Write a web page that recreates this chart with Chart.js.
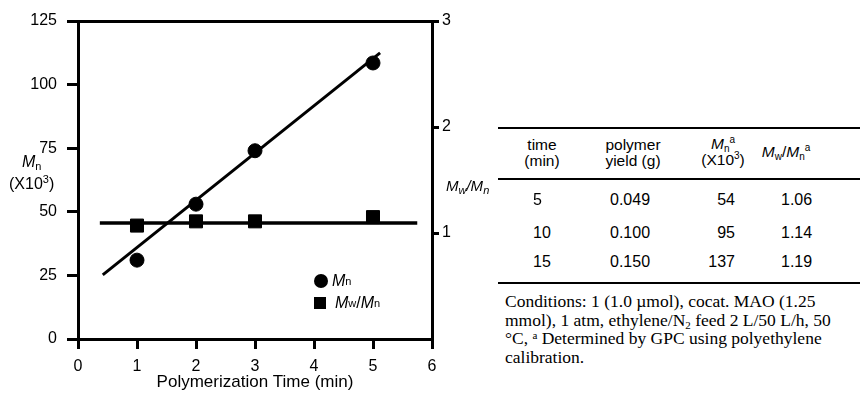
<!DOCTYPE html>
<html>
<head>
<meta charset="utf-8">
<script src="https://cdn.jsdelivr.net/npm/chart.js@4.4.1/dist/chart.umd.min.js"></script>
<style>
  html, body { margin: 0; padding: 0; background: #fff; }
  body { width: 860px; height: 394px; position: relative; overflow: hidden; font-family: "Liberation Sans", Arial, sans-serif; color: #000; }
  #chartBox { position: absolute; left: 0; top: 0; width: 470px; height: 394px; }
  .lbl { position: absolute; font-size: 16px; line-height: 18px; white-space: nowrap; }
  .lbl i { font-style: italic; }
  .lbl sub { font-size: 11px; vertical-align: -3px; line-height: 0; }
  .lbl sup { font-size: 11px; vertical-align: 6px; line-height: 0; }
  #legend { position: absolute; left: 314px; top: 270px; font-size: 16px; }
  #legend .row { height: 22px; display: flex; align-items: center; }
  #legend .mk { width: 14px; height: 14px; background: #000; margin-right: 4px; }
  #legend .mk.circle { border-radius: 50%; }
  #legend .mk.rect { width: 12px; height: 12px; margin-right: 9px; }
  #legend sub { font-size: 11px; vertical-align: -3px; line-height: 0; }
  #tbl { position: absolute; left: 498px; top: 127px; width: 362px; }
  .rule { position: absolute; left: 0; width: 362px; height: 2px; background: #000; }
  .cell { position: absolute; font-size: 15.5px; line-height: 16px; text-align: center; transform: translateX(-50%); white-space: nowrap; }
  .cell i { font-style: italic; }
  .cell sub { font-size: 10px; vertical-align: -3px; line-height: 0; }
  .cell sup { font-size: 10px; vertical-align: 6px; line-height: 0; }
  .num { position: absolute; font-size: 16px; white-space: nowrap; }
  #cond { position: absolute; left: 7px; top: 165px; font-family: "Liberation Serif", "Times New Roman", serif; font-size: 17.5px; line-height: 18.5px; white-space: nowrap; }
  #cond sub, #cond sup { font-size: 11px; line-height: 0; }
  #cond sub { vertical-align: -3px; }
  #cond sup { vertical-align: 5px; }
</style>
</head>
<body>
<div id="chartBox"><canvas id="c" width="470" height="394"></canvas></div>

<div class="lbl" style="left:22px; top:153px;"><i>M</i><sub>n</sub></div>
<div class="lbl" style="left:9px; top:175px;">(X10<sup>3</sup>)</div>
<div class="lbl" style="left:446px; top:177px; font-size:15px;"><i>M<sub>w</sub>/M<sub>n</sub></i></div>

<div id="legend"></div>

<div id="tbl"></div>

<script>
// reaction time (min)
const times = [1, 2, 3, 5];
// Mn (x10^3), left axis
const mnValues = [31, 53, 74, 108.5];
// Mw/Mn, right axis
const pdiValues = [1.07, 1.11, 1.11, 1.15];
// straight-line fits drawn in the figure
const mnFitX = [0.42, 5.12];
const mnFitY = [25.2, 112.5];
const pdiFitX = [0.37, 5.75];
const pdiFitY = [1.094, 1.094];

const xTicks = [0, 1, 2, 3, 4, 5, 6];
const leftTicks = [0, 25, 50, 75, 100, 125];
const rightTicks = [1, 2, 3];

// table
const tableTime = ['5', '10', '15'];
const tableYield = ['0.049', '0.100', '0.150'];
const tableMn = ['54', '95', '137'];
const tablePdi = ['1.06', '1.14', '1.19'];

const pts = (xs, ys) => xs.map((x, i) => ({ x: x, y: ys[i] }));

Chart.defaults.font.family = '"Liberation Sans", Arial, sans-serif';
Chart.defaults.font.size = 16;
Chart.defaults.color = '#000';

const axisBase = {
    border: { color: '#000', width: 3 },
    grid: { drawOnChartArea: false, color: '#000', lineWidth: 3, tickLength: 10 },
};

new Chart(document.getElementById('c'), {
    type: 'scatter',
    data: {
        datasets: [
            {
                label: 'Mn fit', data: pts(mnFitX, mnFitY), yAxisID: 'y',
                showLine: true, borderColor: '#000', borderWidth: 3, pointRadius: 0,
            },
            {
                label: 'Mw/Mn fit', data: pts(pdiFitX, pdiFitY), yAxisID: 'y2',
                showLine: true, borderColor: '#000', borderWidth: 3.5, pointRadius: 0,
            },
            {
                label: 'Mn', data: pts(times, mnValues), yAxisID: 'y',
                pointStyle: 'circle', pointRadius: 7, backgroundColor: '#000', borderColor: '#000',
            },
            {
                label: 'Mw/Mn', data: pts(times, pdiValues), yAxisID: 'y2',
                pointStyle: 'rect', pointRadius: 9.2, backgroundColor: '#000', borderColor: '#000',
            },
        ],
    },
    options: {
        responsive: false,
        animation: false,
        devicePixelRatio: 1,
        layout: { padding: 0 },
        plugins: { legend: { display: false }, tooltip: { enabled: false } },
        scales: {
            x: {
                ...axisBase,
                type: 'linear', position: 'bottom', min: 0, max: 6,
                afterBuildTicks: s => { s.ticks = xTicks.map(v => ({ value: v })); },
                afterFit: s => { s.height = 55; },
                ticks: { padding: 8 },
                title: { display: true, text: 'Polymerization Time (min)', font: { size: 17 }, padding: { top: 0, bottom: 1 } },
            },
            x2: {
                type: 'linear', position: 'top', min: 0, max: 6,
                border: { color: '#000', width: 3 },
                grid: { display: false },
                ticks: { display: false },
                afterFit: s => { s.height = 21; },
            },
            y: {
                ...axisBase,
                position: 'left', min: 0, max: 125,
                grid: { ...axisBase.grid, tickLength: 11 },
                afterBuildTicks: s => { s.ticks = leftTicks.map(v => ({ value: v })); },
                afterFit: s => { s.width = 78; },
                ticks: { padding: 10 },
            },
            y2: {
                ...axisBase,
                position: 'right', min: 0, max: 3,
                grid: { ...axisBase.grid, tickLength: 7 },
                afterBuildTicks: s => { s.ticks = rightTicks.map(v => ({ value: v })); },
                afterFit: s => { s.width = 38; },
                ticks: { padding: 3 },
            },
        },
    },
});

// legend
document.getElementById('legend').innerHTML =
    '<div class="row"><span class="mk circle"></span><i>M</i><sub>n</sub></div>' +
    '<div class="row"><span class="mk rect"></span><i>M</i><sub>w</sub>/<i>M</i><sub>n</sub></div>';

// table
function renderTable() {
    const t = document.getElementById('tbl');
    let html = '';
    html += '<div class="rule" style="top:0"></div>';
    html += '<div class="rule" style="top:51px"></div>';
    html += '<div class="rule" style="top:155px"></div>';
    html += '<div class="cell" style="left:44px;top:10px">time<br>(min)</div>';
    html += '<div class="cell" style="left:135px;top:10px">polymer<br>yield (g)</div>';
    html += '<div class="cell" style="left:225px;top:9px"><i>M</i><sub>n</sub><sup>a</sup><br>(X10<sup>3</sup>)</div>';
    html += '<div class="cell" style="left:288px;top:17px"><i>M</i><sub>w</sub>/<i>M</i><sub>n</sub><sup>a</sup></div>';
    const rowTop = [64, 97, 126];
    tableTime.forEach((v, i) => {
        html += `<div class="num" style="left:35px;top:${rowTop[i]}px">${v}</div>`;
        html += `<div class="num" style="left:112px;top:${rowTop[i]}px">${tableYield[i]}</div>`;
        html += `<div class="num" style="right:125px;top:${rowTop[i]}px">${tableMn[i]}</div>`;
        html += `<div class="num" style="left:283px;top:${rowTop[i]}px">${tablePdi[i]}</div>`;
    });
    html += '<div id="cond">Conditions: 1 (1.0 \u00b5mol), cocat. MAO (1.25<br>' +
        'mmol), 1 atm, ethylene/N<sub>2</sub> feed 2 L/50 L/h, 50<br>' +
        '\u00b0C, <sup>a</sup> Determined by GPC using polyethylene<br>' +
        'calibration.</div>';
    t.innerHTML = html;
}
renderTable();
</script>
</body>
</html>
